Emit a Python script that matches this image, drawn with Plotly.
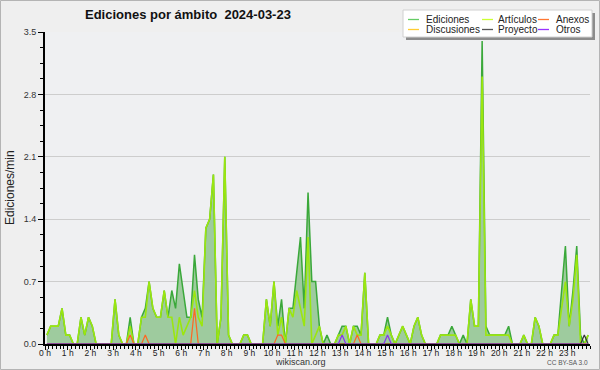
import plotly.graph_objects as go

# ---- data (10-minute bins, edits per minute) ----
bin_start_minutes = list(range(0, 1440, 10))

ediciones = [
    0.1, 0.2, 0.2, 0.2, 0.4, 0.1, 0.1, 0.0, 0.0, 0.3, 0.1, 0.3,
    0.2, 0.0, 0.0, 0.0, 0.0, 0.0, 0.5, 0.1, 0.0, 0.0, 0.3, 0.0,
    0.0, 0.3, 0.4, 0.7, 0.4, 0.3, 0.3, 0.6, 0.3, 0.6, 0.4, 0.9,
    0.6, 0.3, 0.3, 1.0, 0.5, 0.3, 1.3, 1.4, 1.9, 0.0, 0.3, 2.1,
    0.1, 0.0, 0.0, 0.0, 0.1, 0.1, 0.0, 0.0, 0.0, 0.0, 0.5, 0.2,
    0.7, 0.2, 0.5, 0.0, 0.4, 0.4, 0.8, 1.2, 0.4, 1.7, 0.7, 0.7,
    0.2, 0.0, 0.1, 0.0, 0.0, 0.1, 0.2, 0.2, 0.0, 0.2, 0.2, 0.1,
    0.8, 0.0, 0.0, 0.0, 0.1, 0.1, 0.3, 0.1, 0.0, 0.1, 0.2, 0.1,
    0.0, 0.2, 0.3, 0.1, 0.0, 0.0, 0.0, 0.0, 0.1, 0.1, 0.1, 0.2,
    0.1, 0.0, 0.1, 0.0, 0.5, 0.2, 0.2, 3.4, 0.2, 0.1, 0.1, 0.1,
    0.1, 0.1, 0.2, 0.0, 0.0, 0.0, 0.1, 0.0, 0.0, 0.3, 0.2, 0.0,
    0.0, 0.0, 0.1, 0.1, 0.6, 1.1, 0.2, 0.6, 1.1, 0.1, 0.0, 0.1,
]

articulos = [
    0.1, 0.2, 0.2, 0.2, 0.4, 0.1, 0.1, 0.0, 0.0, 0.3, 0.1, 0.3,
    0.2, 0.0, 0.0, 0.0, 0.0, 0.0, 0.5, 0.1, 0.0, 0.0, 0.2, 0.0,
    0.0, 0.3, 0.3, 0.7, 0.4, 0.3, 0.3, 0.6, 0.3, 0.3, 0.0, 0.3,
    0.1, 0.2, 0.3, 0.6, 0.3, 0.2, 1.3, 1.4, 1.9, 0.0, 0.3, 2.1,
    0.1, 0.0, 0.0, 0.0, 0.1, 0.1, 0.0, 0.0, 0.0, 0.0, 0.5, 0.2,
    0.7, 0.1, 0.3, 0.0, 0.4, 0.3, 0.6, 0.4, 0.2, 1.2, 0.0, 0.1,
    0.2, 0.0, 0.0, 0.0, 0.0, 0.1, 0.1, 0.2, 0.0, 0.2, 0.1, 0.1,
    0.8, 0.0, 0.0, 0.0, 0.1, 0.1, 0.2, 0.1, 0.0, 0.1, 0.2, 0.1,
    0.0, 0.2, 0.3, 0.1, 0.0, 0.0, 0.0, 0.0, 0.1, 0.1, 0.1, 0.1,
    0.1, 0.0, 0.0, 0.0, 0.5, 0.2, 0.2, 3.0, 0.1, 0.1, 0.1, 0.1,
    0.1, 0.1, 0.1, 0.0, 0.0, 0.0, 0.1, 0.0, 0.0, 0.3, 0.2, 0.0,
    0.0, 0.0, 0.1, 0.1, 0.4, 0.7, 0.2, 0.5, 1.0, 0.0, 0.0, 0.1,
]

anexos = [
    0.0, 0.0, 0.0, 0.0, 0.0, 0.0, 0.0, 0.0, 0.0, 0.0, 0.0, 0.0,
    0.0, 0.0, 0.0, 0.0, 0.0, 0.0, 0.0, 0.0, 0.0, 0.0, 0.1, 0.0,
    0.0, 0.0, 0.1, 0.0, 0.0, 0.0, 0.0, 0.0, 0.0, 0.0, 0.0, 0.0,
    0.0, 0.0, 0.0, 0.4, 0.0, 0.0, 0.0, 0.0, 0.0, 0.0, 0.0, 0.0,
    0.0, 0.0, 0.0, 0.0, 0.0, 0.0, 0.0, 0.0, 0.0, 0.0, 0.0, 0.0,
    0.0, 0.1, 0.1, 0.0, 0.0, 0.0, 0.0, 0.0, 0.0, 0.0, 0.0, 0.0,
    0.0, 0.0, 0.0, 0.0, 0.0, 0.0, 0.0, 0.0, 0.0, 0.0, 0.1, 0.0,
    0.0, 0.0, 0.0, 0.0, 0.0, 0.0, 0.0, 0.0, 0.0, 0.0, 0.0, 0.0,
    0.0, 0.0, 0.0, 0.0, 0.0, 0.0, 0.0, 0.0, 0.0, 0.0, 0.0, 0.0,
    0.0, 0.0, 0.0, 0.0, 0.0, 0.0, 0.0, 0.0, 0.0, 0.0, 0.0, 0.0,
    0.0, 0.0, 0.0, 0.0, 0.0, 0.0, 0.0, 0.0, 0.0, 0.0, 0.0, 0.0,
    0.0, 0.0, 0.0, 0.0, 0.0, 0.0, 0.0, 0.0, 0.0, 0.0, 0.0, 0.0,
]

otros = [
    0.0, 0.0, 0.0, 0.0, 0.0, 0.0, 0.0, 0.0, 0.0, 0.0, 0.0, 0.0,
    0.0, 0.0, 0.0, 0.0, 0.0, 0.0, 0.0, 0.0, 0.0, 0.0, 0.0, 0.0,
    0.0, 0.0, 0.0, 0.0, 0.0, 0.0, 0.0, 0.0, 0.0, 0.0, 0.0, 0.0,
    0.0, 0.0, 0.0, 0.0, 0.0, 0.0, 0.0, 0.0, 0.0, 0.0, 0.0, 0.0,
    0.0, 0.0, 0.0, 0.0, 0.0, 0.0, 0.0, 0.0, 0.0, 0.0, 0.0, 0.0,
    0.0, 0.0, 0.0, 0.0, 0.0, 0.0, 0.0, 0.0, 0.0, 0.0, 0.0, 0.0,
    0.0, 0.0, 0.0, 0.0, 0.0, 0.0, 0.1, 0.0, 0.0, 0.0, 0.0, 0.0,
    0.0, 0.0, 0.0, 0.0, 0.0, 0.0, 0.1, 0.0, 0.0, 0.0, 0.0, 0.0,
    0.0, 0.0, 0.0, 0.0, 0.0, 0.0, 0.0, 0.0, 0.0, 0.0, 0.0, 0.0,
    0.0, 0.0, 0.0, 0.0, 0.0, 0.0, 0.0, 0.0, 0.0, 0.0, 0.0, 0.0,
    0.0, 0.0, 0.0, 0.0, 0.0, 0.0, 0.0, 0.0, 0.0, 0.0, 0.0, 0.0,
    0.0, 0.0, 0.0, 0.0, 0.0, 0.0, 0.0, 0.0, 0.0, 0.0, 0.0, 0.0,
]

proyecto = [
    0.0, 0.0, 0.0, 0.0, 0.0, 0.0, 0.0, 0.0, 0.0, 0.0, 0.0, 0.0,
    0.0, 0.0, 0.0, 0.0, 0.0, 0.0, 0.0, 0.0, 0.0, 0.0, 0.0, 0.0,
    0.0, 0.0, 0.0, 0.0, 0.0, 0.0, 0.0, 0.0, 0.0, 0.0, 0.0, 0.0,
    0.0, 0.0, 0.0, 0.0, 0.0, 0.0, 0.0, 0.0, 0.0, 0.0, 0.0, 0.0,
    0.0, 0.0, 0.0, 0.0, 0.0, 0.0, 0.0, 0.0, 0.0, 0.0, 0.0, 0.0,
    0.0, 0.0, 0.0, 0.0, 0.0, 0.0, 0.0, 0.0, 0.0, 0.0, 0.0, 0.0,
    0.0, 0.0, 0.0, 0.0, 0.0, 0.0, 0.0, 0.0, 0.0, 0.0, 0.0, 0.0,
    0.0, 0.0, 0.0, 0.0, 0.0, 0.0, 0.0, 0.0, 0.0, 0.0, 0.0, 0.0,
    0.0, 0.0, 0.0, 0.0, 0.0, 0.0, 0.0, 0.0, 0.0, 0.0, 0.0, 0.0,
    0.0, 0.0, 0.0, 0.0, 0.0, 0.0, 0.0, 0.0, 0.0, 0.0, 0.0, 0.0,
    0.0, 0.0, 0.0, 0.0, 0.0, 0.0, 0.0, 0.0, 0.0, 0.0, 0.0, 0.0,
    0.0, 0.0, 0.0, 0.0, 0.0, 0.0, 0.0, 0.0, 0.0, 0.0, 0.1, 0.0,
]

discusiones = [
    0.0, 0.0, 0.0, 0.0, 0.0, 0.0, 0.0, 0.0, 0.0, 0.0, 0.0, 0.0,
    0.0, 0.0, 0.0, 0.0, 0.0, 0.0, 0.0, 0.0, 0.0, 0.0, 0.0, 0.0,
    0.0, 0.0, 0.0, 0.0, 0.0, 0.0, 0.0, 0.0, 0.0, 0.0, 0.0, 0.0,
    0.0, 0.0, 0.0, 0.0, 0.0, 0.0, 0.0, 0.0, 0.0, 0.0, 0.0, 0.0,
    0.0, 0.0, 0.0, 0.0, 0.0, 0.0, 0.0, 0.0, 0.0, 0.0, 0.0, 0.0,
    0.0, 0.0, 0.0, 0.0, 0.0, 0.0, 0.0, 0.0, 0.0, 0.0, 0.0, 0.0,
    0.0, 0.0, 0.0, 0.0, 0.0, 0.0, 0.0, 0.0, 0.0, 0.0, 0.0, 0.0,
    0.0, 0.0, 0.0, 0.0, 0.0, 0.0, 0.0, 0.0, 0.0, 0.0, 0.0, 0.0,
    0.0, 0.0, 0.0, 0.0, 0.0, 0.0, 0.0, 0.0, 0.0, 0.0, 0.0, 0.0,
    0.0, 0.0, 0.0, 0.0, 0.0, 0.0, 0.0, 0.0, 0.0, 0.0, 0.0, 0.0,
    0.0, 0.0, 0.0, 0.0, 0.0, 0.0, 0.0, 0.0, 0.0, 0.0, 0.0, 0.0,
    0.0, 0.0, 0.0, 0.0, 0.0, 0.0, 0.0, 0.0, 0.0, 0.0, 0.0, 0.0,
]

hour_ticks = list(range(24))
hour_labels = [f"{h} h" for h in hour_ticks]
y_ticks = [0.0, 0.7, 1.4, 2.1, 2.8, 3.5]
y_labels = ["0.0", "0.7", "1.4", "2.1", "2.8", "3.5"]

series_names = ["Ediciones", "Artículos", "Anexos", "Discusiones", "Proyecto", "Otros"]
legend_colors = ["#66cc66", "#ccff33", "#ff7733", "#ffcc33", "#555555", "#9933ff"]

title_text = "Ediciones por ámbito\u00a0 2024-03-23"
y_title = "Ediciones/min"
footer_site = "wikiscan.org"
footer_license = "CC BY-SA 3.0"

# ---- geometry ----
W, H = 600, 370
L, R, T, B = 45, 10, 32, 26
PW, PH = W - L - R, H - T - B


def px(x):
    return (x - L) / PW


def py(y):
    return (H - B - y) / PH


# bin centres in hours
x_hours = [(m + 5) / 60 for m in bin_start_minutes]

FONT = "Liberation Sans, Arial, sans-serif"

fig = go.Figure()
fig.add_trace(go.Scatter(
    x=x_hours, y=ediciones, name=series_names[0], mode="lines",
    line=dict(color="#3aa83a", width=1.5), fill="tozeroy", fillcolor="#9ecb9e",
    showlegend=False,
))
fig.add_trace(go.Scatter(
    x=x_hours, y=articulos, name=series_names[1], mode="lines",
    line=dict(color="#9be60f", width=1.6), showlegend=False,
))
fig.add_trace(go.Scatter(
    x=x_hours, y=discusiones, name=series_names[3], mode="lines",
    line=dict(color="#ffcc33", width=1.2), showlegend=False,
))
fig.add_trace(go.Scatter(
    x=x_hours, y=anexos, name=series_names[2], mode="lines",
    line=dict(color="#ff6622", width=1.2), showlegend=False,
))
fig.add_trace(go.Scatter(
    x=x_hours, y=proyecto, name=series_names[4], mode="lines",
    line=dict(color="#333333", width=1.2), showlegend=False,
))
fig.add_trace(go.Scatter(
    x=x_hours, y=otros, name=series_names[5], mode="lines",
    line=dict(color="#8833ee", width=1.2), showlegend=False,
))

shapes = []
# outer figure border
shapes.append(dict(type="rect", xref="paper", yref="paper",
                   x0=px(0.5), x1=px(599.5), y0=py(0.5), y1=py(369.5),
                   line=dict(color="#b4b4b4", width=1), fillcolor="rgba(0,0,0,0)", layer="above"))
# legend shadow + box
shapes.append(dict(type="rect", xref="paper", yref="paper",
                   x0=px(406), x1=px(595), y0=py(13), y1=py(40),
                   line=dict(width=0), fillcolor="#8c8c8c", layer="above"))
shapes.append(dict(type="rect", xref="paper", yref="paper",
                   x0=px(403), x1=px(592), y0=py(10), y1=py(37),
                   line=dict(color="#d0d0d0", width=1), fillcolor="#ffffff", layer="above"))

annotations = []
col_line_x = [408, 482, 538]
col_text_x = [424, 496, 554]
row_y = [19.5, 29.5]
# legend grid: columns x rows; order Ediciones/Discusiones, Artículos/Proyecto, Anexos/Otros
grid = [(0, 0), (1, 0), (2, 0), (0, 1), (1, 1), (2, 1)]
for k, (c, r) in enumerate(grid):
    shapes.append(dict(type="line", xref="paper", yref="paper",
                       x0=px(col_line_x[c]), x1=px(col_line_x[c] + 11),
                       y0=py(row_y[r]), y1=py(row_y[r]),
                       line=dict(color=legend_colors[k], width=1.3), layer="above"))
    annotations.append(dict(text=series_names[k], xref="paper", yref="paper",
                            x=px(col_text_x[c]), y=py(row_y[r]), xanchor="left", yanchor="middle",
                            showarrow=False, font=dict(family=FONT, size=10, color="#222222")))

annotations.append(dict(text=y_title, xref="paper", yref="paper", x=px(10), y=py(188),
                        textangle=-90, xanchor="center", yanchor="middle", showarrow=False,
                        font=dict(family=FONT, size=12, color="#222222")))
annotations.append(dict(text=footer_site, xref="paper", yref="paper", x=px(300), y=py(362),
                        xanchor="center", yanchor="middle", showarrow=False,
                        font=dict(family=FONT, size=9, color="#333333")))
annotations.append(dict(text=footer_license, xref="paper", yref="paper", x=px(590), y=py(362),
                        xanchor="right", yanchor="middle", showarrow=False,
                        font=dict(family=FONT, size=6.5, color="#555555")))

fig.update_layout(
    autosize=False,
    width=W, height=H,
    margin=dict(l=L, r=R, t=T, b=B, pad=0, autoexpand=False),
    paper_bgcolor="#efefef",
    plot_bgcolor="#eff0f2",
    showlegend=False,
    title=dict(text=title_text, xref="container", yref="container",
               x=85 / W, xanchor="left", y=1 - 14 / H, yanchor="middle",
               font=dict(family=FONT, size=13, color="#111111", weight="bold")),
    shapes=shapes,
    annotations=annotations,
    xaxis=dict(
        range=[0, 24], showgrid=False, zeroline=False, automargin=False,
        showline=True, linecolor="#000000", linewidth=2,
        tickmode="array", tickvals=hour_ticks, ticktext=hour_labels,
        ticks="outside", ticklen=4, tickwidth=1, tickcolor="#000000",
        ticklabelstandoff=-4,
        tickfont=dict(family=FONT, size=8.5, color="#222222"),
        minor=dict(tick0=0, dtick=1 / 6, ticks="outside", ticklen=3, tickwidth=1, tickcolor="#000000"),
        fixedrange=True,
    ),
    yaxis=dict(
        range=[0, 3.5], showgrid=True, gridcolor="#cdcdcd", gridwidth=1, zeroline=False,
        automargin=False,
        showline=True, linecolor="#000000", linewidth=2,
        tickmode="array", tickvals=y_ticks, ticktext=y_labels,
        ticks="outside", ticklen=5, tickwidth=1, tickcolor="#000000",
        tickfont=dict(family=FONT, size=9, color="#333333"),
        minor=dict(tick0=0, dtick=0.175, ticks="outside", ticklen=3, tickwidth=1, tickcolor="#000000"),
        fixedrange=True,
    ),
)

fig.write_html(
    "out.html",
    config={"displayModeBar": False, "staticPlot": True, "responsive": False},
    default_width="600px", default_height="370px",
    post_script="document.body.style.margin='0';document.body.style.padding='0';"
                "document.body.style.overflow='hidden';",
)
